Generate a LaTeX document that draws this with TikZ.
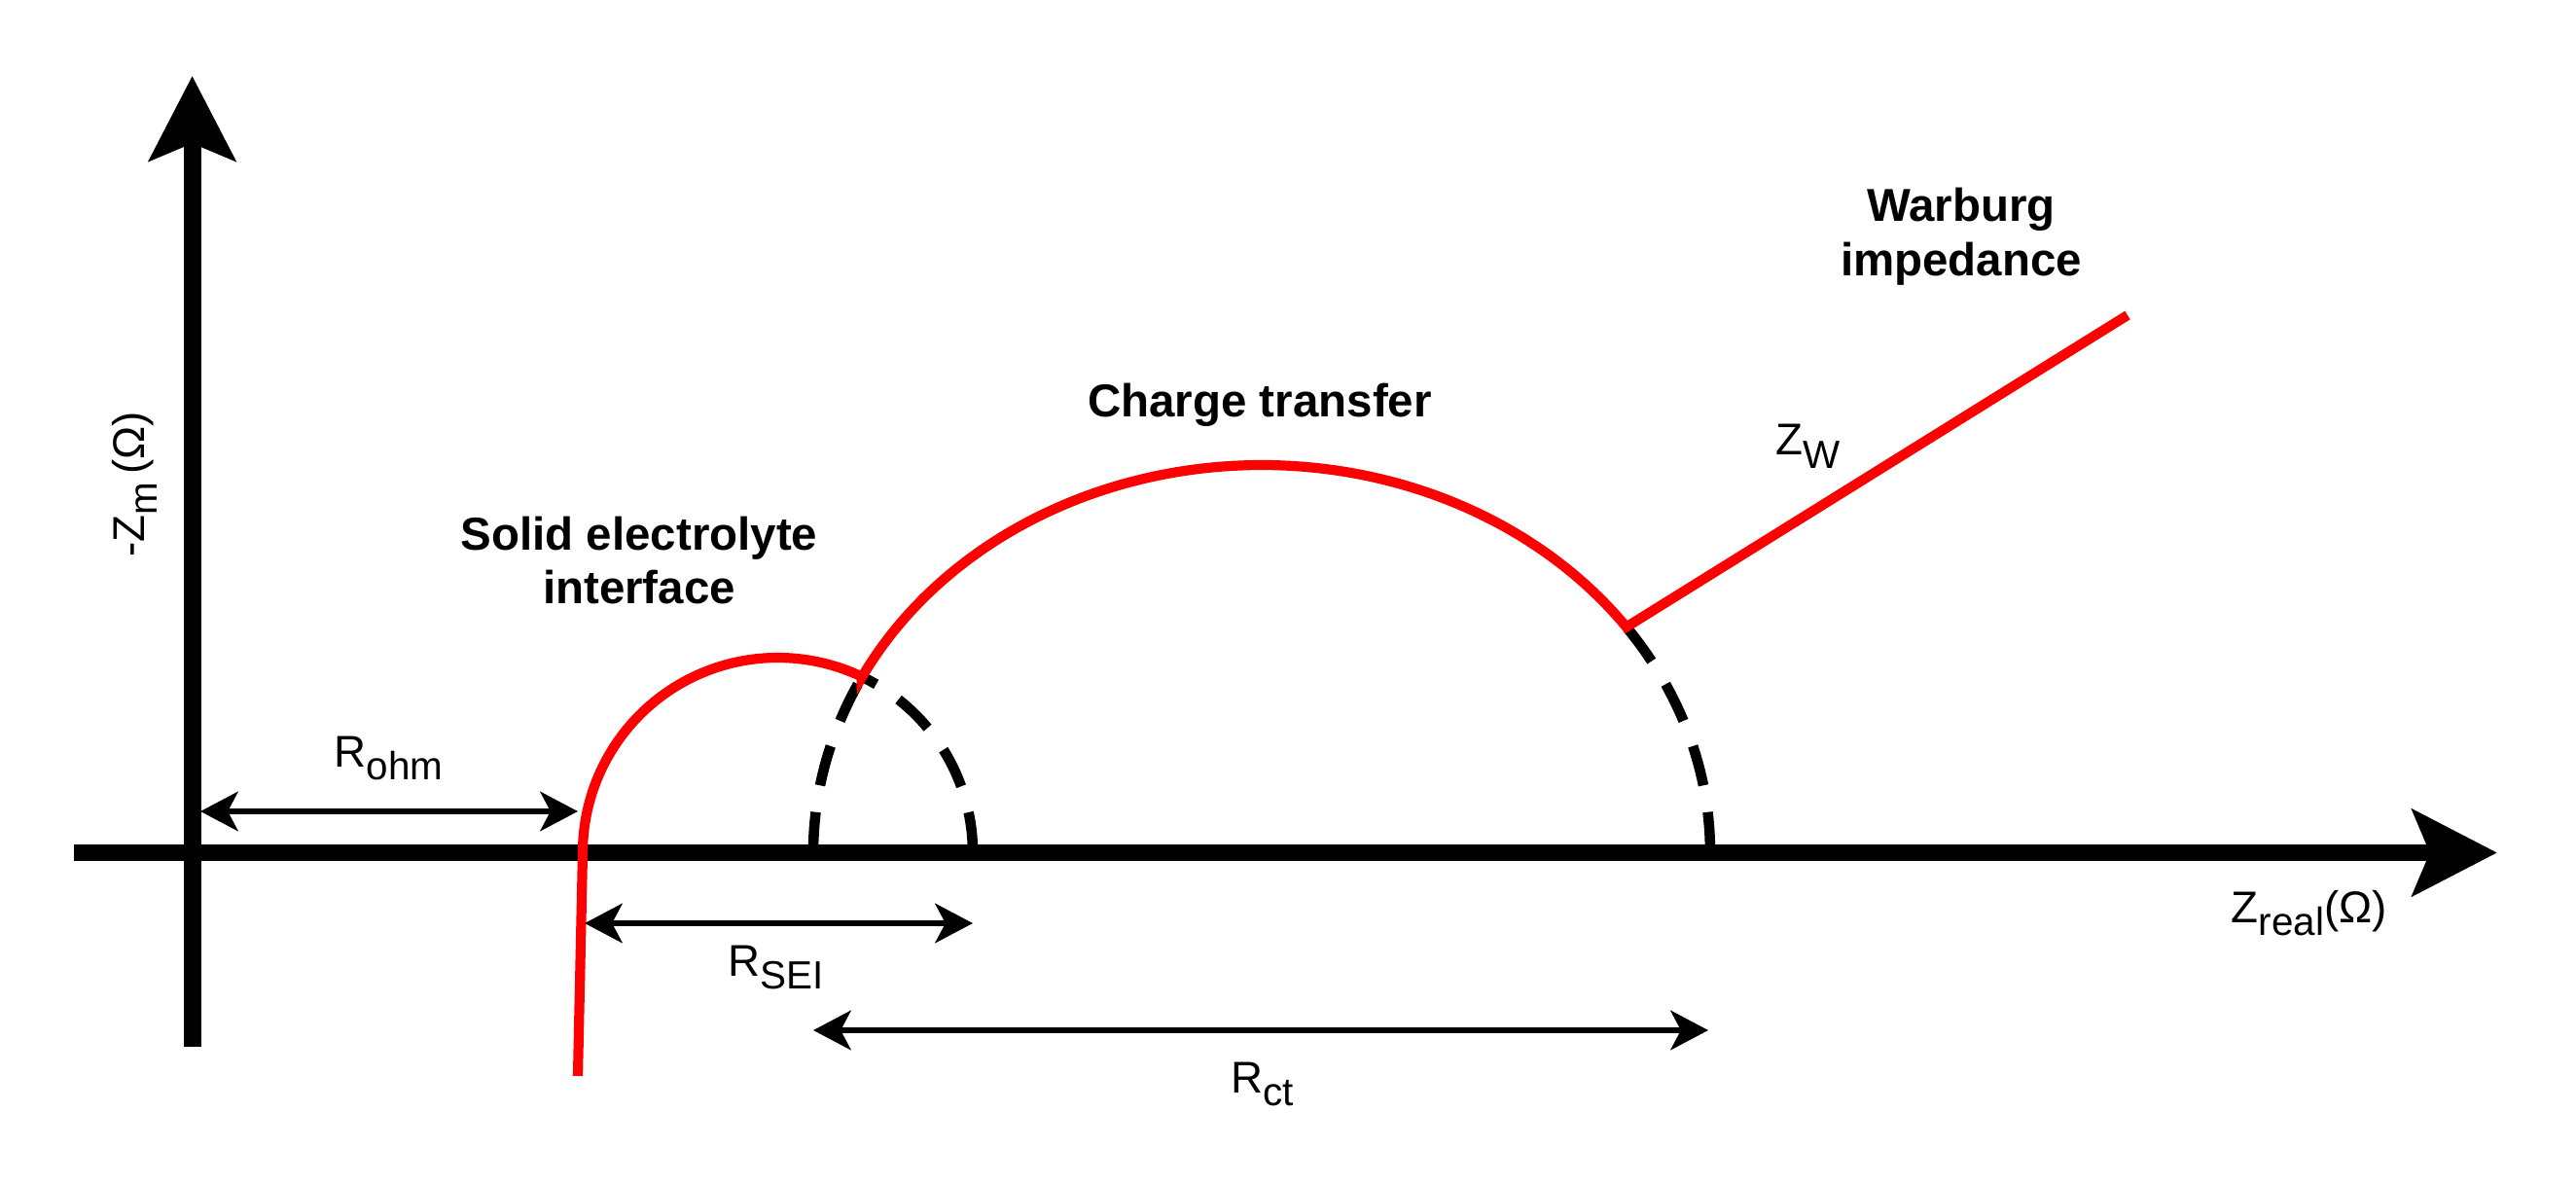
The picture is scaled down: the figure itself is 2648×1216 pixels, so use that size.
\documentclass[tikz,border=0pt]{standalone}
\usepackage{fontspec}
\setmainfont{Liberation Sans}
\usetikzlibrary{arrows.meta}
\newcommand{\lsub}[1]{\raisebox{-3.9pt}{\fontsize{11.5}{13}\selectfont #1}}
\begin{document}
\begin{tikzpicture}[x=0.01cm,y=-0.01cm,
  axis/.style={line width=5.1pt, -{Stealth[length=24.7pt,width=25pt,inset=5pt]}},
  dim/.style={line width=1.7pt, {Stealth[length=11pt,width=11.5pt,inset=3pt]}-{Stealth[length=11pt,width=11.5pt,inset=3pt]}},
  curve/.style={line width=2.9pt, red},
  guide/.style={line width=3pt, dash pattern=on 11.9pt off 7.9pt},
  lbl/.style={inner sep=0pt, font=\fontsize{13}{15.6}\selectfont, anchor=base west},
  title/.style={inner sep=0pt, font=\fontsize{13.5}{15.6}\selectfont\bfseries, anchor=base}]
\useasboundingbox (0,0) rectangle (2648,1216);
\fill[white] (0,0) rectangle (2648,1216);
% coordinates
\coordinate (ytop) at (197.6,78);
\coordinate (ybot) at (197.6,1076);
\coordinate (xleft) at (76,876.5);
\coordinate (xright) at (2567,876.5);
\coordinate (ohmA) at (206,834);
\coordinate (ohmB) at (594,834);
\coordinate (seiA) at (601,949);
\coordinate (seiB) at (1000,949);
\coordinate (ctA) at (836,1059);
\coordinate (ctB) at (1756,1059);
\coordinate (redbot) at (594,1106);
\coordinate (redaxis) at (599,876.5);
\coordinate (wend) at (2187,324);
% dashed continuations
\draw[guide] plot[domain=180:153.2, samples=30] ({1297+461*cos(\x)},{876.5-398.5*sin(\x)});
\draw[guide] plot[domain=0:64.6, samples=40] ({799.5+200.5*cos(\x)},{876.5-200.5*sin(\x)});
\draw[guide] plot[domain=0:35.6, samples=30] ({1297+461*cos(\x)},{876.5-398.5*sin(\x)});
% axes
\draw[axis] (ybot) -- (ytop);
\draw[axis] (xleft) -- (xright);
% red spectrum
\draw[curve] (redbot) -- (redaxis)
  -- plot[domain=180:64.6, samples=60] ({799.5+200.5*cos(\x)},{876.5-200.5*sin(\x)})
  -- plot[domain=153.2:35.6, samples=100] ({1297+461*cos(\x)},{876.5-398.5*sin(\x)})
  -- (wend);
% dimension arrows
\draw[dim] (ohmA) -- (ohmB);
\draw[dim] (seiA) -- (seiB);
\draw[dim] (ctA) -- (ctB);
% labels
\node[lbl] (rohm) at (343,788) {R\lsub{ohm}};
\node[lbl] (rsei) at (748,1003) {R\lsub{SEI}};
\node[lbl] (rct) at (1265,1123) {R\lsub{ct}};
\node[lbl] (zreal) at (2293,948) {Z\lsub{real}(Ω)};
\node[lbl] (zw) at (1825,468) {Z\lsub{W}};
\node[lbl, rotate=90] (zim) at (148,573) {-Z\lsub{m}\,(Ω)};
\node[title] (sei1) at (657,566) {Solid electrolyte};
\node[title] (sei2) at (657,621) {interface};
\node[title] (ct) at (1295,429) {Charge transfer};
\node[title] (wb1) at (2016,228) {Warburg};
\node[title] (wb2) at (2016,284) {impedance};
\end{tikzpicture}
\end{document}
